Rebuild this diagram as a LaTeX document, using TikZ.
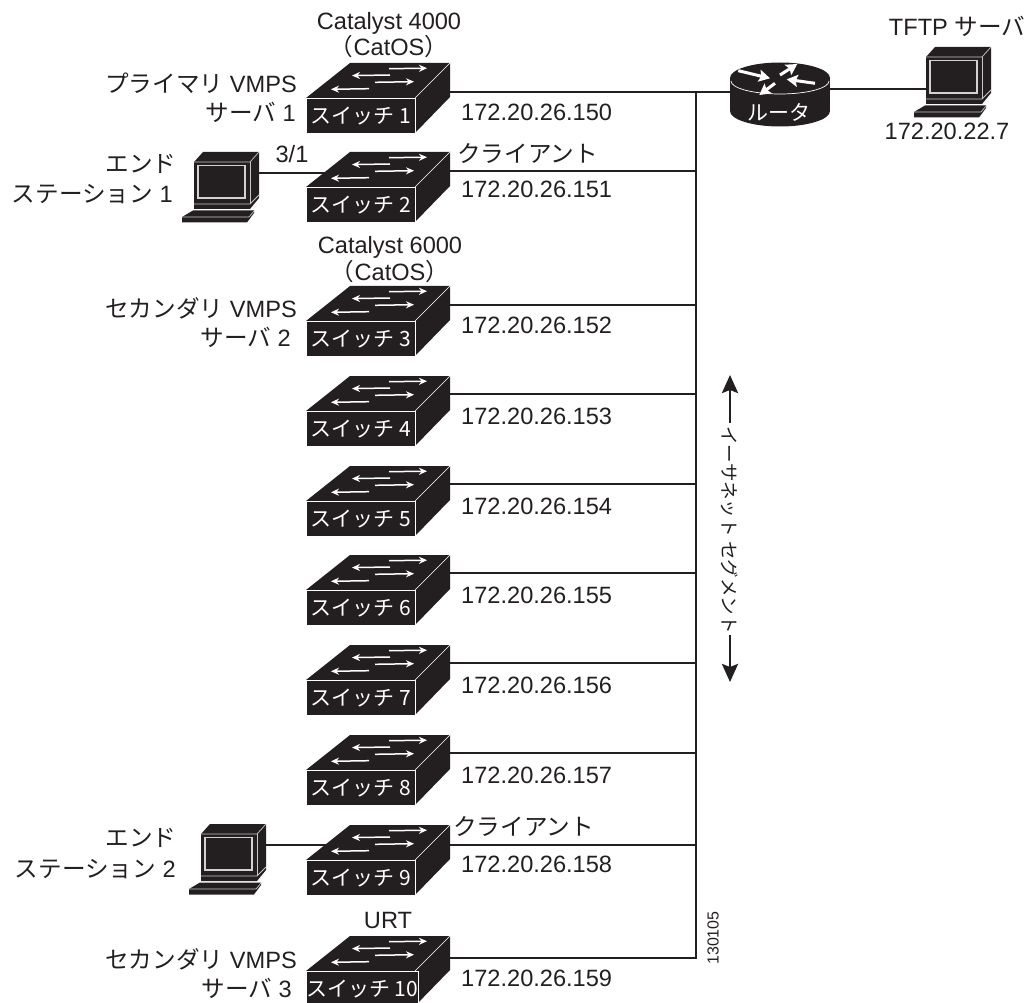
\documentclass[tikz,border=0pt]{standalone}
\usepackage{fontspec}
\setmainfont{Liberation Sans}
\newfontfamily\cjk{Noto Sans CJK JP}
\usetikzlibrary{arrows.meta}
\newcommand{\J}[1]{{\cjk #1}}
\definecolor{ink}{HTML}{231F20}
\tikzset{
  wire/.style={draw=ink,line width=1.8pt},
  lbl/.style={text=ink,font=\fontsize{23.6}{26}\selectfont,inner sep=0pt,anchor=base west},
  lbr/.style={text=ink,font=\fontsize{23.6}{26}\selectfont,inner sep=0pt,anchor=base east},
  lbc/.style={text=ink,font=\fontsize{23.6}{26}\selectfont,inner sep=0pt,anchor=base},
  white arrow/.style={white,line width=1.5pt,-{Stealth[length=8pt,width=7pt]}},
  router arrow/.style={white,line width=3pt,-{Stealth[length=11pt,width=12pt,inset=2pt]}},
  swfront/.style={fill=ink,draw=white,line width=.6pt,minimum width=109pt,minimum height=35pt,inner sep=0pt,text=white,
     font=\fontsize{21}{24}\selectfont,anchor=north west},
  ethtip/.style={draw=ink,line width=2.6pt,-{Stealth[length=18pt,width=16pt,inset=3pt]}}
}
% #1 name, #2 x, #3 y of front top left, #4 label
\newcommand{\switchicon}[4]{
  \begin{scope}[shift={(#2,#3)}]
    \fill[ink] (0,0) -- (44,-35) -- (144,-35) -- (109,0) -- (109,35) -- (0,35) -- cycle;
    \fill[ink] (109,0) -- (144,-35) -- (144,-1) -- (109,35) -- cycle;
    \draw[white,line width=.6pt] (109,0) -- (144,-35);
    \draw[white,line width=.6pt] (109,0) -- (109,35);
    \draw[white arrow] (83,-29.3) -- (121,-29.8);
    \draw[white arrow] (84,-23) -- (46,-22.4);
    \draw[white arrow] (69,-15.7) -- (108,-16.3);
    \draw[white arrow] (63,-9.3) -- (25,-8.7);
    \node[swfront] (#1) at (0,0) {\J{#4}};
    \coordinate (#1p) at (144,-6);
    \coordinate (#1e) at (20,0);
  \end{scope}
}
\newcommand{\pcicon}[3]{
  \begin{scope}[shift={(#2,#3)}]
    \fill[ink] (0,0) -- (9,-10) -- (65,-10) -- (65,36) -- (56,47) -- (0,47) -- cycle;
    \draw[white!75!ink,line width=.7pt] (0,0) -- (56,0) -- (65,-10);
    \draw[white!75!ink,line width=.7pt] (56,0) -- (56,42);
    \draw[white!80!ink,line width=1.1pt] (4,3.5) rectangle (51,36);
    \draw[white!75!ink,line width=.9pt] (0,42) -- (56,42) -- (65,33);
    \fill[ink] (-1,48.5) -- (60,48.5) -- (60,51) -- (53,60.5) -- (-12,60.5) -- (-12,55) -- cycle;
    \draw[white!75!ink,line width=.7pt] (-12,55) -- (55,55) -- (60,49);
    \coordinate (#1) at (0,0);
    \coordinate (#1r) at (65,11);
  \end{scope}
}
\begin{document}
\begin{tikzpicture}[x=1pt,y=-1pt]
\useasboundingbox (0,0) rectangle (1034,1003);
% switches
\switchicon{s1}{306}{98}{スイッチ 1}
\switchicon{s2}{306}{187}{スイッチ 2}
\switchicon{s3}{306}{321}{スイッチ 3}
\switchicon{s4}{306}{411}{スイッチ 4}
\switchicon{s5}{306}{501}{スイッチ 5}
\switchicon{s6}{306}{590}{スイッチ 6}
\switchicon{s7}{306}{680}{スイッチ 7}
\switchicon{s8}{306}{770}{スイッチ 8}
\switchicon{s9}{306}{860}{スイッチ 9}
\switchicon{s10}{306}{971}{スイッチ 10}
% bus
\coordinate (bt) at (696,92);
\coordinate (bb) at (696,958.9);
\foreach \n/\y in {1/92,2/171,3/305,4/394,5/484,6/573,7/663,8/753,9/845,10/958}{
  \coordinate (b\n) at (696,\y);
  \draw[wire] (s\n p |- b\n) -- (b\n);
}
\draw[wire] (bt) -- (bb);
% router
\fill[ink] (780,78) ellipse [x radius=50,y radius=15.5];
\fill[ink] (780,111) ellipse [x radius=50,y radius=15.5];
\fill[ink] (730,78) rectangle (830,111);
\draw[white,line width=.7pt] (731,81) arc[start angle=180,end angle=0,x radius=49,y radius=13];
\node[inner sep=0pt,text=white,font=\fontsize{21}{24}\selectfont] (router) at (779,112) {\J{ルータ}};
\coordinate (rl) at (730,92);
\coordinate (rr) at (830,89);
\draw[router arrow] (738.3,70.7) -- (770,78.3);
\draw[router arrow] (780,75) -- (797.3,64);
\draw[router arrow] (775,83.3) -- (759.3,95);
\draw[router arrow] (815,83.3) -- (786.7,79.3);
\draw[wire] (bt) -- (rl);
% computers
\pcicon{pc1}{194}{162}
\pcicon{pc2}{201}{834}
\pcicon{pc3}{926}{57}
\draw[wire] (pc1r) -- (pc1r -| s2e);
\draw[wire] (pc2r) -- (pc2r -| s9e);
\draw[wire] (rr) -- (rr -| pc3);
% labels
\node[lbc] (t1) at (389,29.5) {Catalyst 4000};
\node[lbc] (t2) at (389,56) {\J{（}CatOS\J{）}};
\node[lbr] (t3) at (297,92.5) {\J{プライマリ} VMPS};
\node[lbr] (t4) at (296,122) {\J{サーバ} 1};
\node[lbl] (t5) at (461,121) {172.20.26.150};
\node[lbc] (t6) at (292,163) {3/1};
\node[lbl] (t7) at (457,163) {\J{クライアント}};
\node[lbl] (t8) at (461,197.5) {172.20.26.151};
\node[lbc] (t9) at (141,173) {\J{エンド}};
\node[lbr] (t10) at (173,203) {\J{ステーション} 1};
\node[lbc] (t11) at (390,254) {Catalyst 6000};
\node[lbc] (t12) at (390,281) {\J{（}CatOS\J{）}};
\node[lbr] (t13) at (297,317) {\J{セカンダリ} VMPS};
\node[lbr] (t14) at (291,346) {\J{サーバ} 2};
\node[lbl] (t15) at (461,333) {172.20.26.152};
\node[lbl] (t16) at (461,424) {172.20.26.153};
\node[lbl] (t17) at (461,514) {172.20.26.154};
\node[lbl] (t18) at (461,603) {172.20.26.155};
\node[lbl] (t19) at (461,693) {172.20.26.156};
\node[lbl] (t20) at (461,783) {172.20.26.157};
\node[lbl] (t21) at (453,835) {\J{クライアント}};
\node[lbl] (t22) at (461,872) {172.20.26.158};
\node[lbc] (t23) at (141,846) {\J{エンド}};
\node[lbr] (t24) at (176,877) {\J{ステーション} 2};
\node[lbc] (t25) at (388,928) {URT};
\node[lbr] (t27) at (297,968) {\J{セカンダリ} VMPS};
\node[lbr] (t28) at (292,997) {\J{サーバ} 3};
\node[lbl] (t29) at (461,986) {172.20.26.159};
\node[lbc] (t30) at (957,36) {TFTP \J{サーバ}};
\node[lbc] (t31) at (947,140) {172.20.22.7};
% ethernet
\node[text=ink,font=\fontsize{18.5}{20}\selectfont,rotate=-90,inner sep=0pt] (eth) at (730,530) {\J{イーサネット セグメント}};
\coordinate (e1) at (730,375);
\coordinate (e2) at (730,682);
\draw[ethtip] (730,423) -- (e1);
\draw[ethtip] (730,635) -- (e2);
\node[text=ink,font=\fontsize{16}{18}\selectfont,rotate=90,inner sep=0pt] (num) at (713,938) {130105};
\end{tikzpicture}
\end{document}
